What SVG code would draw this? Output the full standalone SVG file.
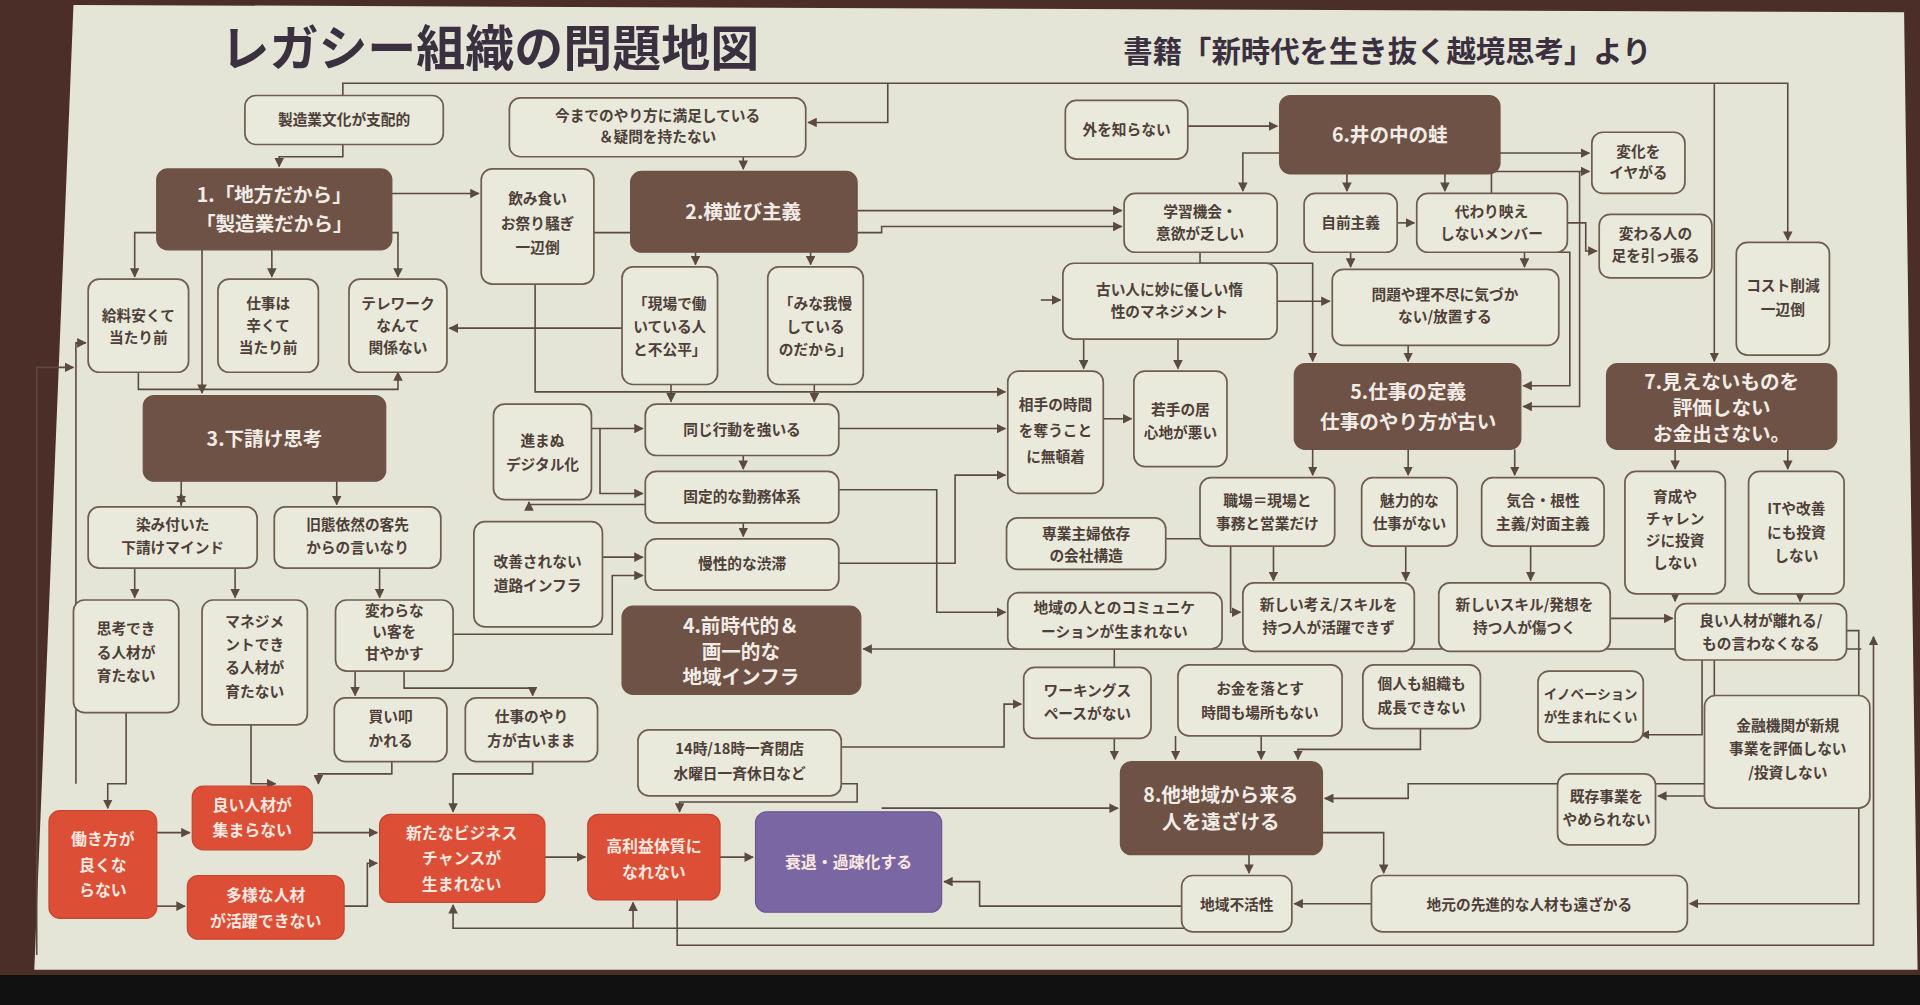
<svg xmlns="http://www.w3.org/2000/svg" width="1920" height="1005" viewBox="0 0 1920 1005">
<style>
.n rect{fill:#e9e9dc;stroke:#6e5d50;stroke-width:1.4}
.d rect{fill:#6e5246;stroke:#6e5246}
.r rect{fill:#dc4f36;stroke:#c8442e}
.p rect{fill:#7a66a3;stroke:#6a5890}
text{font-family:"Noto Sans CJK JP","Noto Sans CJK SC",sans-serif;text-anchor:middle;font-weight:bold}
.n text{fill:#4e3f38;font-size:12px}
.d text{fill:#f2ece6;font-size:16px}
.r text,.p text{fill:#fbe8e0;font-size:13px}
#c path{fill:none;stroke:#5a4a40;stroke-width:1.3;marker-end:url(#a)}
</style>
<defs><marker id="a" viewBox="0 0 10 10" refX="9" refY="5" markerWidth="6" markerHeight="6" orient="auto"><path d="M0,0L10,5L0,10z" fill="#5a4a40"/></marker></defs>
<rect width="1920" height="1005" fill="#4a2e27"/>
<rect y="975" width="1920" height="30" fill="#111"/>
<g transform="scale(1.2245)">
<polygon points="60,4 1555,10 1566,792 28,792" fill="#e4e5d6"/>
<text x="400" y="54" style="font-size:40px;fill:#3a3040">レガシー組織の問題地図</text>
<text x="1133" y="51" style="font-size:24px;fill:#3a3040">書籍「新時代を生き抜く越境思考」より</text>
<g id="c">
<path d="M280,118V128H228V136"/>
<path d="M280,78V68H1460V196"/>
<path d="M1400,68V295"/>
<path d="M725,68V100H660"/>
<path d="M970,103H1043"/>
<path d="M607,128V138"/>
<path d="M320,158H391"/>
<path d="M128,190H110V226"/>
<path d="M222,204V226"/>
<path d="M310,190H325V226"/>
<path d="M165,204V321"/>
<path d="M113,304V318H325V304"/>
<path d="M62,640V280H70"/>
<path d="M508,268H367"/>
<path d="M568,206V216"/>
<path d="M662,206V216"/>
<path d="M700,172H916"/>
<path d="M485,190H720V185H916"/>
<path d="M437,232V320H821"/>
<path d="M548,314V328"/>
<path d="M665,314V328"/>
<path d="M483,350H525"/>
<path d="M490,350V403H525"/>
<path d="M527,412H432V410"/>
<path d="M607,372V383"/>
<path d="M607,427V438"/>
<path d="M685,350H821"/>
<path d="M685,400H765V500H821"/>
<path d="M685,460H780V388H821"/>
<path d="M492,455H525"/>
<path d="M370,518H500V470H525"/>
<path d="M1520,530H705"/>
<path d="M901,342H924"/>
<path d="M1045,125H1015V156"/>
<path d="M1100,142V156"/>
<path d="M1180,142V156"/>
<path d="M1225,125H1298"/>
<path d="M1141,182H1155"/>
<path d="M1218,158V140H1298"/>
<path d="M1280,182H1295V205H1304"/>
<path d="M1103,206V218"/>
<path d="M1245,206V218"/>
<path d="M1043,246H1086"/>
<path d="M850,245H866"/>
<path d="M885,277V301"/>
<path d="M962,277V301"/>
<path d="M1150,282V295"/>
<path d="M980,206V215H1072V295"/>
<path d="M1265,206H1282V315H1244"/>
<path d="M1290,140V332H1244"/>
<path d="M1072,367V388"/>
<path d="M1150,367V388"/>
<path d="M1237,367V388"/>
<path d="M1368,367V383"/>
<path d="M1460,367V383"/>
<path d="M1040,446V474"/>
<path d="M1148,446V474"/>
<path d="M1250,446V474"/>
<path d="M1315,505H1366"/>
<path d="M1368,485V491"/>
<path d="M1470,485V491"/>
<path d="M952,440H1005V500H1013"/>
<path d="M1390,539V600H1340"/>
<path d="M1400,539V640H1150V652H1082"/>
<path d="M1392,650H1354"/>
<path d="M1508,515H1518V738H1380"/>
<path d="M1020,698V713"/>
<path d="M1080,680H1130V713"/>
<path d="M1120,738H1057"/>
<path d="M965,740H800V720H771"/>
<path d="M1160,595V612H1060V620"/>
<path d="M1030,601V620"/>
<path d="M960,601V620"/>
<path d="M910,530V620"/>
<path d="M687,610H820V575H834"/>
<path d="M687,640H700V655H555V663"/>
<path d="M720,660H913"/>
<path d="M103,582V640H88V660"/>
<path d="M205,592V640H225V640"/>
<path d="M128,680H155"/>
<path d="M128,740H151"/>
<path d="M255,680H308"/>
<path d="M281,740H300V705H308"/>
<path d="M445,700H478"/>
<path d="M588,700H615"/>
<path d="M1000,758H370V739"/>
<path d="M517,758V737"/>
<path d="M553,735V772H1530V520"/>
<path d="M30,780V300H60"/>
<path d="M148,414V403"/>
<path d="M275,393V412"/>
<path d="M148,393V412"/>
<path d="M110,464V488"/>
<path d="M192,464V488"/>
<path d="M310,464V488"/>
<path d="M290,548V568"/>
<path d="M330,548V562H435V568"/>
<path d="M320,622V632H260V640"/>
<path d="M435,622V632H370V663"/>
</g>
<g class="n" id="n01"><rect x="200" y="78" width="162" height="40" rx="9"/><text x="281" y="102">製造業文化が支配的</text></g>
<g class="n" id="n02"><rect x="416" y="80" width="242" height="48" rx="9"/><text x="537" y="99">今までのやり方に満足している</text><text x="537" y="116">＆疑問を持たない</text></g>
<g class="n" id="n03"><rect x="870" y="82" width="100" height="48" rx="9"/><text x="920" y="110">外を知らない</text></g>
<g class="d" id="n04"><rect x="1045" y="78" width="180" height="64" rx="9"/><text x="1135" y="116">6.井の中の蛙</text></g>
<g class="d" id="n05"><rect x="128" y="138" width="192" height="66" rx="9"/><text x="224" y="165">1.「地方だから」</text><text x="224" y="189">「製造業だから」</text></g>
<g class="n" id="n06"><rect x="393" y="138" width="92" height="94" rx="9"/><text x="439" y="167">飲み食い</text><text x="439" y="187">お祭り騒ぎ</text><text x="439" y="207">一辺倒</text></g>
<g class="d" id="n07"><rect x="515" y="140" width="185" height="66" rx="9"/><text x="607" y="179">2.横並び主義</text></g>
<g class="n" id="n08"><rect x="918" y="158" width="125" height="48" rx="9"/><text x="980" y="177">学習機会・</text><text x="980" y="195">意欲が乏しい</text></g>
<g class="n" id="n09"><rect x="1065" y="158" width="76" height="48" rx="9"/><text x="1103" y="186">自前主義</text></g>
<g class="n" id="n10"><rect x="1157" y="158" width="123" height="48" rx="9"/><text x="1218" y="177">代わり映え</text><text x="1218" y="195">しないメンバー</text></g>
<g class="n" id="n11"><rect x="1300" y="108" width="76" height="50" rx="9"/><text x="1338" y="128">変化を</text><text x="1338" y="145">イヤがる</text></g>
<g class="n" id="n12"><rect x="1306" y="175" width="92" height="52" rx="9"/><text x="1352" y="195">変わる人の</text><text x="1352" y="213">足を引っ張る</text></g>
<g class="n" id="n13"><rect x="1418" y="198" width="76" height="92" rx="9"/><text x="1456" y="238">コスト削減</text><text x="1456" y="257">一辺倒</text></g>
<g class="n" id="n14"><rect x="72" y="228" width="82" height="76" rx="9"/><text x="113" y="262">給料安くて</text><text x="113" y="280">当たり前</text></g>
<g class="n" id="n15"><rect x="178" y="228" width="82" height="76" rx="9"/><text x="219" y="252">仕事は</text><text x="219" y="270">辛くて</text><text x="219" y="288">当たり前</text></g>
<g class="n" id="n16"><rect x="285" y="228" width="80" height="76" rx="9"/><text x="325" y="252">テレワーク</text><text x="325" y="270">なんて</text><text x="325" y="288">関係ない</text></g>
<g class="n" id="n17"><rect x="508" y="218" width="78" height="96" rx="9"/><text x="547" y="252">「現場で働</text><text x="547" y="271">いている人</text><text x="547" y="290">と不公平」</text></g>
<g class="n" id="n18"><rect x="627" y="218" width="78" height="96" rx="9"/><text x="666" y="252">「みな我慢</text><text x="666" y="271">している</text><text x="666" y="290">のだから」</text></g>
<g class="n" id="n19"><rect x="868" y="215" width="175" height="62" rx="9"/><text x="955" y="241">古い人に妙に優しい惰</text><text x="955" y="259">性のマネジメント</text></g>
<g class="n" id="n20"><rect x="1088" y="220" width="185" height="62" rx="9"/><text x="1180" y="245">問題や理不尽に気づか</text><text x="1180" y="263">ない/放置する</text></g>
<g class="d" id="n21"><rect x="117" y="323" width="198" height="70" rx="9"/><text x="216" y="364">3.下請け思考</text></g>
<g class="n" id="n22"><rect x="403" y="330" width="80" height="78" rx="9"/><text x="443" y="364">進まぬ</text><text x="443" y="384">デジタル化</text></g>
<g class="n" id="n23"><rect x="527" y="330" width="158" height="42" rx="9"/><text x="606" y="355">同じ行動を強いる</text></g>
<g class="n" id="n24"><rect x="823" y="303" width="78" height="100" rx="9"/><text x="862" y="335">相手の時間</text><text x="862" y="356">を奪うこと</text><text x="862" y="377">に無頓着</text></g>
<g class="n" id="n25"><rect x="926" y="303" width="76" height="78" rx="9"/><text x="964" y="339">若手の居</text><text x="964" y="358">心地が悪い</text></g>
<g class="d" id="n26"><rect x="1057" y="297" width="185" height="70" rx="9"/><text x="1150" y="326">5.仕事の定義</text><text x="1150" y="350">仕事のやり方が古い</text></g>
<g class="d" id="n27"><rect x="1312" y="297" width="188" height="70" rx="9"/><text x="1406" y="318">7.見えないものを</text><text x="1406" y="339">評価しない</text><text x="1406" y="360">お金出さない。</text></g>
<g class="n" id="n28"><rect x="527" y="385" width="158" height="42" rx="9"/><text x="606" y="410">固定的な勤務体系</text></g>
<g class="n" id="n29"><rect x="72" y="414" width="138" height="50" rx="9"/><text x="141" y="433">染み付いた</text><text x="141" y="452">下請けマインド</text></g>
<g class="n" id="n30"><rect x="224" y="414" width="136" height="50" rx="9"/><text x="292" y="433">旧態依然の客先</text><text x="292" y="452">からの言いなり</text></g>
<g class="n" id="n31"><rect x="387" y="426" width="105" height="86" rx="9"/><text x="439" y="463">改善されない</text><text x="439" y="483">道路インフラ</text></g>
<g class="n" id="n32"><rect x="527" y="440" width="158" height="42" rx="9"/><text x="606" y="465">慢性的な渋滞</text></g>
<g class="n" id="n33"><rect x="822" y="423" width="130" height="42" rx="9"/><text x="887" y="440">専業主婦依存</text><text x="887" y="458">の会社構造</text></g>
<g class="n" id="n34"><rect x="980" y="390" width="110" height="56" rx="9"/><text x="1035" y="413">職場＝現場と</text><text x="1035" y="432">事務と営業だけ</text></g>
<g class="n" id="n35"><rect x="1112" y="390" width="78" height="56" rx="9"/><text x="1151" y="413">魅力的な</text><text x="1151" y="432">仕事がない</text></g>
<g class="n" id="n36"><rect x="1210" y="390" width="100" height="56" rx="9"/><text x="1260" y="413">気合・根性</text><text x="1260" y="432">主義/対面主義</text></g>
<g class="n" id="n37"><rect x="1327" y="385" width="82" height="100" rx="9"/><text x="1368" y="410">育成や</text><text x="1368" y="428">チャレン</text><text x="1368" y="446">ジに投資</text><text x="1368" y="464">しない</text></g>
<g class="n" id="n38"><rect x="1428" y="385" width="78" height="100" rx="9"/><text x="1467" y="420">ITや改善</text><text x="1467" y="439">にも投資</text><text x="1467" y="458">しない</text></g>
<g class="n" id="n39"><rect x="60" y="490" width="86" height="92" rx="9"/><text x="103" y="518">思考でき</text><text x="103" y="537">る人材が</text><text x="103" y="556">育たない</text></g>
<g class="n" id="n40"><rect x="165" y="490" width="86" height="102" rx="9"/><text x="208" y="512">マネジメ</text><text x="208" y="531">ントでき</text><text x="208" y="550">る人材が</text><text x="208" y="569">育たない</text></g>
<g class="n" id="n41"><rect x="274" y="490" width="96" height="58" rx="9"/><text x="322" y="503">変わらな</text><text x="322" y="520">い客を</text><text x="322" y="538">甘やかす</text></g>
<g class="d" id="n42"><rect x="508" y="495" width="195" height="72" rx="9"/><text x="605" y="517">4.前時代的＆</text><text x="605" y="538">画一的な</text><text x="605" y="559">地域インフラ</text></g>
<g class="n" id="n43"><rect x="823" y="484" width="175" height="46" rx="9"/><text x="910" y="501">地域の人とのコミュニケ</text><text x="910" y="520">ーションが生まれない</text></g>
<g class="n" id="n44"><rect x="1015" y="476" width="140" height="56" rx="9"/><text x="1085" y="498">新しい考え/スキルを</text><text x="1085" y="517">持つ人が活躍できず</text></g>
<g class="n" id="n45"><rect x="1175" y="476" width="140" height="56" rx="9"/><text x="1245" y="498">新しいスキル/発想を</text><text x="1245" y="517">持つ人が傷つく</text></g>
<g class="n" id="n46"><rect x="1368" y="493" width="140" height="46" rx="9"/><text x="1438" y="511">良い人材が離れる/</text><text x="1438" y="530">もの言わなくなる</text></g>
<g class="n" id="n47"><rect x="273" y="570" width="92" height="52" rx="9"/><text x="319" y="590">買い叩</text><text x="319" y="609">かれる</text></g>
<g class="n" id="n48"><rect x="380" y="570" width="108" height="52" rx="9"/><text x="434" y="590">仕事のやり</text><text x="434" y="609">方が古いまま</text></g>
<g class="n" id="n49"><rect x="521" y="596" width="166" height="54" rx="9"/><text x="604" y="616">14時/18時一斉閉店</text><text x="604" y="636">水曜日一斉休日など</text></g>
<g class="n" id="n50"><rect x="836" y="545" width="104" height="58" rx="9"/><text x="888" y="568">ワーキングス</text><text x="888" y="587">ペースがない</text></g>
<g class="n" id="n51"><rect x="962" y="543" width="134" height="58" rx="9"/><text x="1029" y="567">お金を落とす</text><text x="1029" y="586">時間も場所もない</text></g>
<g class="n" id="n52"><rect x="1113" y="543" width="96" height="52" rx="9"/><text x="1161" y="563">個人も組織も</text><text x="1161" y="582">成長できない</text></g>
<g class="n" id="n53"><rect x="1256" y="548" width="86" height="58" rx="9"/><text x="1299" y="571" style="font-size:11px">イノベーション</text><text x="1299" y="590" style="font-size:11px">が生まれにくい</text></g>
<g class="n" id="n54"><rect x="1392" y="568" width="135" height="92" rx="9"/><text x="1460" y="597">金融機関が新規</text><text x="1460" y="616">事業を評価しない</text><text x="1460" y="635">/投資しない</text></g>
<g class="n" id="n55"><rect x="1272" y="632" width="80" height="58" rx="9"/><text x="1312" y="655">既存事業を</text><text x="1312" y="674">やめられない</text></g>
<g class="d" id="n56"><rect x="915" y="622" width="165" height="76" rx="9"/><text x="997" y="655">8.他地域から来る</text><text x="997" y="677">人を遠ざける</text></g>
<g class="n" id="n57"><rect x="965" y="715" width="90" height="46" rx="9"/><text x="1010" y="743">地域不活性</text></g>
<g class="n" id="n58"><rect x="1120" y="715" width="258" height="46" rx="9"/><text x="1249" y="743">地元の先進的な人材も遠ざかる</text></g>
<g class="r" id="n59"><rect x="40" y="662" width="88" height="88" rx="9"/><text x="84" y="690">働き方が</text><text x="84" y="711">良くな</text><text x="84" y="732">らない</text></g>
<g class="r" id="n60"><rect x="157" y="642" width="98" height="52" rx="9"/><text x="206" y="662">良い人材が</text><text x="206" y="683">集まらない</text></g>
<g class="r" id="n61"><rect x="153" y="715" width="128" height="52" rx="9"/><text x="217" y="736">多様な人材</text><text x="217" y="757">が活躍できない</text></g>
<g class="r" id="n62"><rect x="310" y="665" width="135" height="72" rx="9"/><text x="377" y="685">新たなビジネス</text><text x="377" y="706">チャンスが</text><text x="377" y="727">生まれない</text></g>
<g class="r" id="n63"><rect x="480" y="665" width="108" height="70" rx="9"/><text x="534" y="696">高利益体質に</text><text x="534" y="717">なれない</text></g>
<g class="p" id="n64"><rect x="617" y="663" width="152" height="82" rx="9"/><text x="693" y="709">衰退・過疎化する</text></g>
</g>
</svg>
